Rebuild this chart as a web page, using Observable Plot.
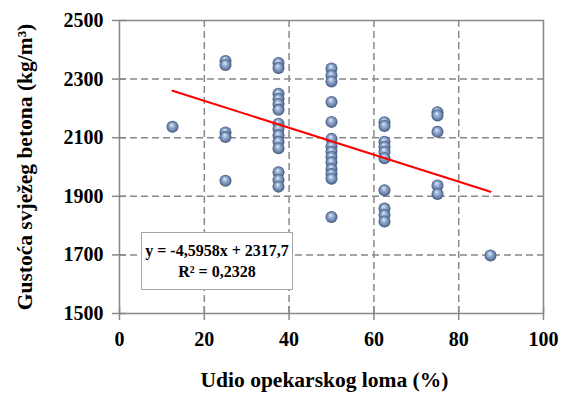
<!DOCTYPE html>
<html><head><meta charset="utf-8">
<script src="https://cdn.jsdelivr.net/npm/d3@7"></script>
<script src="https://cdn.jsdelivr.net/npm/@observablehq/plot@0.6"></script>
<style>
body{margin:0;background:#fff}
#wrap{position:relative;width:572px;height:394px}
#eq{position:absolute;left:141px;top:232px;width:152px;height:58px;border:1.5px solid #a6a6a6;background:#fff;font:bold 16px "Liberation Serif","Times New Roman",serif;text-align:center;line-height:21px;padding-top:7px;box-sizing:border-box;color:#000;white-space:nowrap}
svg text{font-weight:bold}
</style></head><body><div id="wrap"><div id="eq"></div></div>
<script>
// Share of brick rubble (%) levels
const brick12_5 = [2137];
const brick25 = [2362, 2348, 2118, 2102, 1953];
const brick37_5 = [2355, 2338, 2250, 2232, 2215, 2195, 2148, 2130, 2108, 2086, 2064, 1982, 1956, 1933];
const brick50 = [2336, 2312, 2292, 2222, 2154, 2096, 2070, 2052, 2034, 2016, 1993, 1976, 1960, 1829];
const brick62_5 = [2153, 2140, 2086, 2069, 2052, 2030, 1921, 1858, 1836, 1814];
const brick75 = [2187, 2176, 2120, 1937, 1908];
const brick87_5 = [1698];
const groups = [[12.5, brick12_5], [25, brick25], [37.5, brick37_5], [50, brick50], [62.5, brick62_5], [75, brick75], [87.5, brick87_5]];

const slope = -4.5958, intercept = 2317.7, r2 = 0.2328;
const trendX = [12.5, 87.5];
const xTicks = [0, 20, 40, 60, 80, 100];
const yTicks = [1500, 1700, 1900, 2100, 2300, 2500];
const eqLines = ["y = -4,5958x + 2317,7", "R² = 0,2328"];

const points = groups.flatMap(([x, ys]) => ys.map(y => ({x, y})));
const trend = trendX.map(x => ({x, y: slope * x + intercept}));

const fmt = d3.format("d");
const gridStyle = {stroke: "#888", strokeOpacity: 1, strokeDasharray: "7,4", strokeWidth: 1.5};
const chart = Plot.plot({
  width: 572, height: 394,
  marginLeft: 119, marginRight: 29, marginTop: 20, marginBottom: 81,
  style: {fontFamily: "'Liberation Serif','Times New Roman',serif", fontSize: "20px", fontWeight: "bold", color: "#000", background: "#fff"},
  x: {domain: [0, 100]},
  y: {domain: [1500, 2500]},
  marks: [
    Plot.gridX([20, 40, 60, 80], gridStyle),
    Plot.gridY([1700, 1900, 2100, 2300], gridStyle),
    Plot.frame({stroke: "#888", strokeWidth: 1.5}),
    Plot.axisX(xTicks, {tickSize: 7, tickPadding: 11, fontSize: 20, tickFormat: fmt, stroke: "#888", strokeWidth: 1.5, label: "Udio opekarskog loma (%)", labelAnchor: "center", labelArrow: "none", labelOffset: 73}),
    Plot.axisX(xTicks, {tickSize: 7, dy: -7, stroke: "#888", strokeWidth: 1.5, tickFormat: () => "", label: null}),
    Plot.axisY(yTicks, {tickSize: 7, tickPadding: 9, fontSize: 20, tickFormat: fmt, stroke: "#888", strokeWidth: 1.5, label: "Gustoća svježeg betona (kg/m³)", labelAnchor: "center", labelArrow: "none", labelOffset: 103}),
    Plot.axisY(yTicks, {tickSize: 7, dx: 7, stroke: "#888", strokeWidth: 1.5, tickFormat: () => "", label: null}),
    Plot.dot(points, {x: "x", y: "y", r: 6, fill: "#8aa2c8", stroke: "none"}),
    Plot.line(trend, {x: "x", y: "y", stroke: "#ff0000", strokeWidth: 2})
  ]
});
const svg = d3.select(chart);
const g = svg.insert("defs", ":first-child").append("radialGradient")
  .attr("id", "ball").attr("cx", "0.5").attr("cy", "0.5").attr("r", "0.5").attr("fx", "0.42").attr("fy", "0.32");
g.append("stop").attr("offset", "0%").attr("stop-color", "#e4ecf8");
g.append("stop").attr("offset", "35%").attr("stop-color", "#9db4d8");
g.append("stop").attr("offset", "75%").attr("stop-color", "#6a83aa");
g.append("stop").attr("offset", "100%").attr("stop-color", "#3f5478");
svg.selectAll("circle").attr("fill", "url(#ball)");
svg.selectAll('g[aria-label="x-axis label"]').attr("font-size", 21.5)
  .attr("transform", function() { return `translate(-7,0) ${this.getAttribute("transform") || ""}`; });
svg.selectAll('g[aria-label="y-axis label"]').attr("font-size", 21.5);
document.getElementById("wrap").prepend(chart);
document.getElementById("eq").innerHTML = eqLines.map(t => `<div>${t}</div>`).join("");
</script>
</body></html>
